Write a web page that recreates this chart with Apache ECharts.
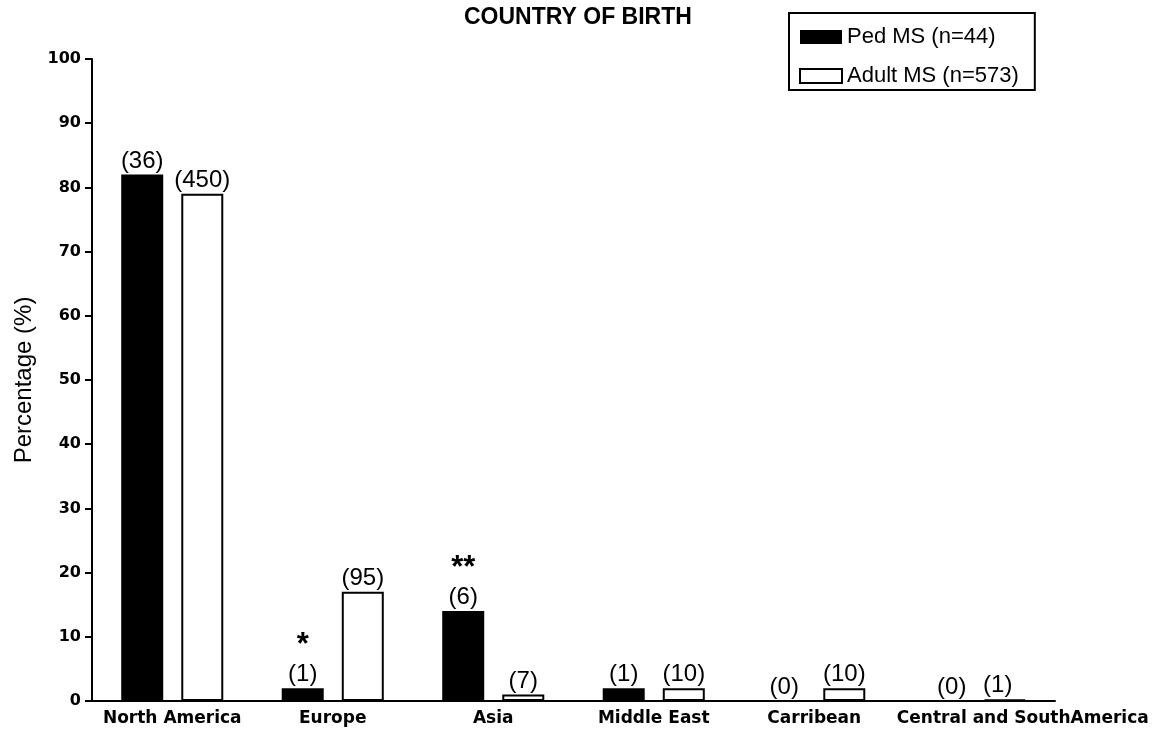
<!DOCTYPE html>
<html><head><meta charset="utf-8">
<script src="https://cdn.jsdelivr.net/npm/echarts@6/dist/echarts.min.js"></script>
<style>html,body{margin:0;padding:0;background:#fff}#c{width:1161px;height:738px}</style>
</head><body><div id="c"></div>
<script>
const categories = ['North America','Europe','Asia','Middle East','Carribean','Central and SouthAmerica'];
const pedValues = [82, 2, 14, 2, 0, 0];
const adultValues = [79, 17, 1, 2, 2, 0.2];
const pedCounts = ['(36)', '(1)', '(6)', '(1)', '(0)', '(0)'];
const pedStars = ['', '*', '**', '', '', ''];
const adultCounts = ['(450)', '(95)', '(7)', '(10)', '(10)', '(1)'];
const yTicks = [0,10,20,30,40,50,60,70,80,90,100];

const FONT = 'Liberation Sans, Arial, sans-serif';
const WIDE = 'DejaVu Sans, sans-serif';
const lastIdx = categories.length - 1;
const richLabel = {
  s: {fontFamily: FONT, fontSize: 31, fontWeight: 'bold', color: '#000', lineHeight: 34, align: 'center'},
  n: {fontFamily: FONT, fontSize: 24, color: '#000', lineHeight: 25, align: 'center'}
};
const chart = echarts.init(document.getElementById('c'));
chart.setOption({
  animation: false,
  backgroundColor: '#fff',
  title: {
    text: 'COUNTRY OF BIRTH', left: 459, top: 1,
    textStyle: {fontFamily: FONT, fontSize: 23, fontWeight: 'bold', color: '#000'}
  },
  legend: {
    orient: 'vertical', left: 789, top: 13,
    padding: [12, 16, 2, 10], itemGap: 15,
    itemWidth: 42, itemHeight: 14,
    borderColor: '#000', borderWidth: 2, borderRadius: 0,
    icon: 'rect',
    textStyle: {fontFamily: FONT, fontSize: 22, color: '#000', lineHeight: 24},
    data: ['Ped MS (n=44)', 'Adult MS (n=573)']
  },
  grid: {left: 92, right: 106, top: 59, bottom: 37, containLabel: false},
  xAxis: {
    type: 'category',
    data: categories.map((c, i) => i === lastIdx ? {value: c, textStyle: {padding: [0, 0, 0, 96]}} : c),
    axisLine: {lineStyle: {color: '#000', width: 2}},
    axisTick: {alignWithLabel: true, length: 7, lineStyle: {color: '#000', width: 2}},
    axisLabel: {fontFamily: WIDE, fontSize: 17, fontWeight: 'bold', color: '#000', margin: 9, interval: 0}
  },
  yAxis: {
    type: 'value', min: 0, max: 100, interval: 10,
    name: 'Percentage (%)', nameLocation: 'middle', nameGap: 43, nameRotate: 90,
    nameTextStyle: {fontFamily: FONT, fontSize: 24, color: '#000'},
    splitLine: {show: false},
    axisLine: {show: true, lineStyle: {color: '#000', width: 2}},
    axisTick: {show: true, length: 7, lineStyle: {color: '#000', width: 2}},
    axisLabel: {fontFamily: WIDE, fontSize: 16, fontWeight: 'bold', color: '#000', margin: 11,
      formatter: v => yTicks.includes(v) ? String(v) : ''}
  },
  series: [
    {
      name: 'Ped MS (n=44)', type: 'bar',
      data: pedValues.map((v, i) => i === lastIdx ? {value: v, label: {offset: [7, 0]}} : v),
      barWidth: 42, barGap: '43%',
      itemStyle: {color: '#000', borderColor: '#000', borderWidth: 0},
      label: {show: true, position: 'top', distance: 1, rich: richLabel,
        formatter: p => (pedStars[p.dataIndex] ? '{s|' + pedStars[p.dataIndex] + '}\n' : '') + '{n|' + pedCounts[p.dataIndex] + '}'}
    },
    {
      name: 'Adult MS (n=573)', type: 'bar',
      data: adultValues.map((v, i) => i === lastIdx ? {value: v, label: {offset: [-7, 0]}} : v),
      barWidth: 42,
      itemStyle: {color: '#fff', borderColor: '#000', borderWidth: 2},
      label: {show: true, position: 'top', distance: 1, rich: richLabel,
        formatter: p => '{n|' + adultCounts[p.dataIndex] + '}'}
    }
  ]
});
</script></body></html>
